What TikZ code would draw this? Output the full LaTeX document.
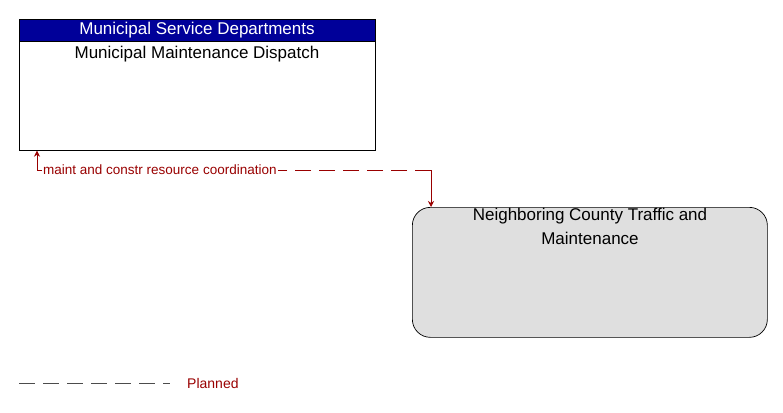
\documentclass[tikz,border=0pt]{standalone}
\usepackage{fontspec}
\setmainfont{Liberation Sans}
\usetikzlibrary{arrows.meta}
\begin{document}
\begin{tikzpicture}[x=1pt,y=-1pt,
  flow/.style={draw=red!60!black,dash pattern=on 16pt off 8pt,line width=0.7pt},
  lbl/.style={text=red!60!black,font=\fontsize{13.5}{16}\selectfont,inner sep=1pt}]
\useasboundingbox (0,0) rectangle (783,412);
\node[draw,line width=0.7pt,minimum width=356pt,minimum height=131pt,anchor=north west,inner sep=0] (b1) at (19,19) {};
\fill[blue!60!black,draw=black,line width=0.7pt] (19,19) rectangle (375,41);
\node[text=white,font=\fontsize{17}{20}\selectfont] (h1) at (197,30) {Municipal Service Departments};
\node[font=\fontsize{17}{20}\selectfont] (t1) at (197,54) {Municipal Maintenance Dispatch};
\node[draw,fill=gray!25,rounded corners=18pt,line width=0.7pt,minimum width=355pt,minimum height=130pt,anchor=north west,inner sep=0] (b2) at (412,207) {};
\node[font=\fontsize{17}{24}\selectfont,align=center,anchor=north,inner sep=0] (t2) at (590,208) {Neighboring County Traffic and\\Maintenance};
\coordinate (c1) at (37,170);
\coordinate (c2) at (431,170);
\draw[flow] (c2) -- (c1);
\draw[red!60!black,line width=0.7pt,-{Stealth[length=6pt,width=6pt]}] (c1) -- (b1.south west -| c1);
\draw[red!60!black,line width=0.7pt,-{Stealth[length=6pt,width=6pt]}] (c2) -- (b2.north west -| c2);
\node[lbl,fill=white,anchor=west] (l1) at (42,170) {maint and constr resource coordination};
\coordinate (lg1) at (19,383);
\coordinate (lg2) at (170,383);
\draw[flow,draw=black!70] (lg1) -- (lg2);
\node[lbl,anchor=west,font=\fontsize{14}{16}\selectfont] (pl) at (186,383) {Planned};
\end{tikzpicture}
\end{document}
